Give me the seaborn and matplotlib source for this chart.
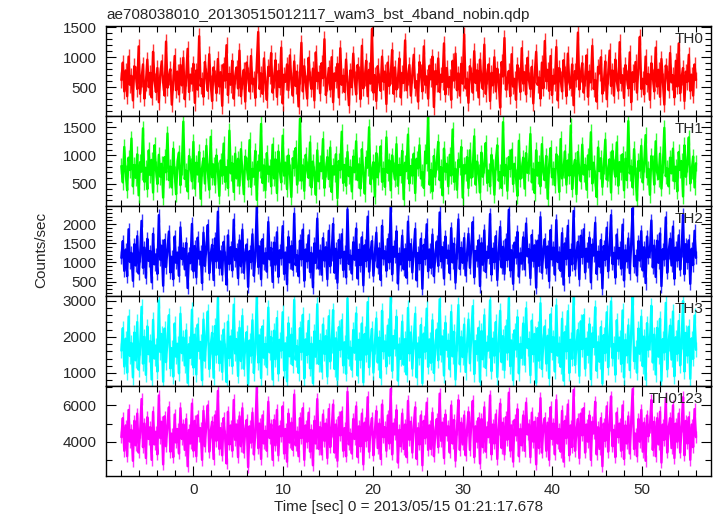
import numpy as np
import pandas as pd
import seaborn as sns
import matplotlib.pyplot as plt
from matplotlib.ticker import MultipleLocator

# light curves, 400 bins between -8 and 56 sec
t_start = -8.0
t_stop = 56.0

th0 = [620, 910, 430, 780, 350, 1010, 540, 690, 280, 850, 720, 470, 1180, 390, 640, 880, 310, 560, 960, 500,
       740, 330, 1090, 610, 420, 820, 250, 700, 930, 580, 360, 1260, 490, 670, 800, 210, 590, 1020, 450, 760,
       380, 870, 530, 990, 300, 650, 1140, 420, 710, 560, 890, 240, 780, 460, 1350, 520, 630, 340, 920, 690,
       440, 1050, 570, 270, 830, 660, 400, 970, 510, 750, 190, 880, 610, 1200, 370, 720, 540, 940, 310, 680,
       830, 480, 1110, 350, 600, 790, 260, 910, 700, 430, 1020, 550, 640, 320, 860, 1420, 470, 730, 390, 980,
       560, 290, 840, 690, 1070, 410, 620, 950, 340, 770, 500, 1160, 230, 710, 590, 880, 450, 1030, 620, 360,
       930, 520, 760, 180, 680, 1240, 430, 850, 570, 310, 990, 640, 470, 810, 280, 1080, 600, 740, 400, 900,
       650, 1300, 370, 560, 820, 460, 1000, 250, 730, 610, 890, 330, 1150, 540, 690, 420, 960, 580, 200, 780,
       500, 1060, 640, 380, 870, 720, 300, 1190, 480, 650, 940, 350, 790, 560, 1470, 410, 700, 270, 850, 610,
       440, 1010, 590, 760, 220, 910, 520, 680, 1120, 390, 830, 460, 620, 980, 330, 740, 570, 1280, 450, 660,
       870, 360, 700, 1040, 490, 600, 260, 920, 750, 430, 1180, 540, 680, 310, 860, 630, 1010, 170, 770, 550,
       980, 420, 710, 590, 1230, 380, 820, 500, 670, 290, 940, 610, 1060, 450, 730, 360, 890, 560, 1380, 480,
       640, 240, 850, 700, 410, 1100, 570, 780, 330, 960, 620, 470, 1210, 390, 690, 880, 270, 740, 530, 1000,
       430, 810, 600, 160, 920, 680, 1320, 460, 590, 770, 350, 1050, 510, 640, 290, 870, 710, 420, 1150, 560,
       750, 380, 990, 620, 470, 840, 230, 700, 1090, 540, 660, 310, 910, 480, 1270, 600, 790, 440, 1020, 370,
       690, 560, 1170, 280, 820, 640, 430, 950, 720, 350, 1060, 580, 490, 880, 200, 770, 630, 1410, 460, 710,
       900, 410, 650, 1030, 340, 760, 580, 1190, 470, 620, 260, 840, 730, 1000, 390, 560, 930, 300, 690, 1110,
       520, 780, 360, 960, 610, 440, 1250, 570, 700, 320, 870, 660, 480, 1080, 250, 750, 590, 920, 410, 830,
       1340, 470, 640, 380, 1010, 550, 720, 290, 900, 680, 430, 1160, 510, 790, 340, 970, 600, 210, 860, 740,
       450, 1070, 580, 700, 330, 940, 510, 1230, 400, 660, 820, 270, 760, 590, 1040, 440, 710, 360, 880, 620]

th1 = [810, 520, 1150, 690, 380, 960, 740, 1300, 450, 830, 600, 1020, 290, 880, 710, 1480, 530, 780, 400, 1090,
       650, 920, 340, 1180, 760, 490, 1010, 620, 850, 250, 970, 700, 1390, 560, 800, 430, 1120, 680, 310, 900,
       1050, 470, 790, 1600, 580, 730, 360, 990, 820, 540, 1240, 410, 870, 660, 1060, 230, 770, 950, 500, 1170,
       720, 390, 1330, 610, 840, 480, 1000, 750, 280, 910, 640, 1210, 530, 790, 420, 1440, 680, 860, 350, 1030,
       590, 940, 460, 1110, 700, 310, 980, 830, 570, 1270, 440, 760, 620, 1080, 210, 890, 730, 1560, 510, 820,
       380, 1040, 670, 800, 450, 1190, 590, 930, 330, 1070, 740, 520, 1350, 640, 870, 400, 1000, 710, 260, 950,
       780, 1130, 480, 690, 1650, 550, 820, 370, 1010, 760, 600, 1230, 430, 890, 680, 300, 1090, 540, 860, 720,
       1290, 420, 750, 970, 580, 1140, 350, 810, 660, 1020, 240, 900, 740, 1420, 510, 830, 460, 1060, 630, 790,
       360, 980, 700, 1250, 560, 840, 410, 1110, 670, 320, 960, 780, 1500, 490, 720, 880, 270, 1040, 610, 850,
       1160, 530, 760, 440, 1320, 690, 910, 380, 1000, 750, 570, 1200, 460, 830, 650, 1080, 220, 870, 720, 1370,
       500, 810, 640, 1030, 330, 940, 770, 1180, 590, 700, 420, 1070, 860, 1700, 480, 740, 360, 990, 620, 880,
       1240, 560, 790, 290, 1120, 710, 850, 450, 1010, 640, 1460, 530, 760, 390, 920, 800, 1150, 250, 830, 680,
       970, 420, 1090, 600, 760, 1340, 480, 890, 710, 340, 1050, 620, 820, 1220, 510, 730, 450, 1010, 790, 300,
       880, 1180, 550, 700, 420, 1590, 640, 830, 370, 970, 760, 1100, 490, 850, 620, 280, 1260, 580, 740, 960,
       410, 1040, 690, 810, 1380, 520, 750, 330, 1090, 640, 870, 450, 1200, 700, 560, 990, 230, 820, 1130, 610,
       760, 470, 1020, 860, 350, 1290, 590, 730, 1070, 480, 910, 640, 1530, 400, 780, 920, 310, 1060, 700, 540,
       1190, 660, 830, 390, 1000, 750, 1410, 500, 870, 600, 260, 1140, 720, 950, 440, 810, 1280, 570, 690, 930,
       340, 1080, 790, 620, 1230, 460, 880, 710, 1020, 380, 940, 560, 1610, 680, 800, 430, 1110, 650, 200, 900,
       730, 1170, 520, 840, 1360, 610, 760, 300, 990, 870, 480, 1250, 700, 580, 1030, 410, 820, 1490, 630, 770,
       450, 960, 680, 1120, 540, 800, 360, 1060, 740, 900, 270, 1180, 620, 850, 1320, 500, 720, 980, 430, 860]

th2 = [1120, 1560, 780, 1340, 640, 1870, 1010, 1250, 520, 1480, 920, 1690, 710, 1180, 2090, 860, 1390, 600, 1620, 1040,
       1300, 480, 1750, 950, 1210, 700, 2240, 1070, 1440, 390, 1590, 880, 1330, 1810, 740, 1150, 560, 1680, 990, 1260,
       650, 1920, 1090, 1370, 820, 1510, 330, 1240, 980, 2010, 770, 1430, 610, 1650, 1100, 1280, 460, 1780, 910, 1390,
       1980, 720, 1200, 1460, 540, 1630, 1030, 2330, 850, 1290, 680, 1540, 1120, 420, 1710, 960, 1400, 790, 2120, 1060,
       1350, 590, 1580, 900, 1860, 730, 1220, 1470, 360, 1300, 1010, 1740, 650, 1170, 2460, 880, 1420, 560, 1610, 970,
       1240, 760, 2060, 1080, 1380, 490, 1520, 940, 1790, 620, 1320, 1110, 1950, 700, 1260, 430, 1670, 1000, 1430, 810,
       2280, 930, 1190, 640, 1570, 1080, 1860, 520, 1340, 1030, 1710, 750, 1250, 350, 1500, 990, 2150, 840, 1310, 680,
       1640, 1050, 1400, 560, 1830, 900, 1210, 2010, 730, 1360, 470, 1590, 1120, 1740, 800, 1280, 610, 2390, 960, 1180,
       710, 1530, 1070, 1890, 580, 1330, 930, 1660, 400, 1450, 1040, 2200, 760, 1270, 1560, 650, 1200, 1780, 870, 1370,
       540, 1960, 1100, 1290, 780, 1610, 1000, 2480, 690, 1410, 1150, 1820, 450, 1230, 950, 1700, 820, 1350, 600, 2070,
       1060, 1480, 740, 1300, 1880, 530, 1250, 980, 1620, 310, 1460, 1090, 2000, 770, 1340, 860, 1730, 640, 1190, 1550,
       910, 2310, 1030, 1400, 580, 1680, 1120, 1310, 720, 1900, 1000, 1490, 470, 1260, 2130, 830, 1380, 990, 1640, 660,
       1220, 1750, 860, 1430, 2060, 610, 1300, 1050, 1580, 380, 1510, 940, 1840, 750, 1280, 1120, 2270, 680, 1360, 1010,
       1690, 540, 1230, 1930, 870, 1410, 700, 1600, 1060, 2380, 790, 1320, 440, 1520, 1130, 1800, 630, 1240, 970, 1660,
       820, 2020, 1160, 1350, 590, 1720, 1040, 1450, 340, 1570, 910, 2190, 730, 1290, 1610, 860, 1420, 510, 1850, 1080,
       1390, 680, 2110, 1010, 1260, 780, 1770, 420, 1500, 1090, 1960, 640, 1330, 950, 2350, 820, 1210, 1540, 560, 1700,
       1140, 1870, 740, 1360, 1020, 1650, 480, 1470, 1180, 2040, 700, 1280, 890, 1590, 320, 1430, 1070, 1910, 770, 1340,
       2240, 960, 1250, 600, 1730, 1100, 1380, 840, 1990, 530, 1320, 1030, 1630, 720, 1490, 2420, 900, 1170, 660, 1560,
       1050, 1820, 790, 1400, 460, 1680, 1130, 1290, 2100, 870, 1440, 620, 1570, 990, 1760, 380, 1350, 1080, 2180, 730,
       1270, 1620, 920, 1940, 570, 1390, 1050, 1710, 810, 1300, 2250, 690, 1480, 1010, 1580, 440, 1360, 930, 1830, 1120]

th3 = [1620, 2240, 1180, 1950, 1010, 2560, 1470, 1830, 880, 2120, 1350, 2410, 1090, 1710, 2830, 1260, 2000, 950, 2290, 1520,
       1880, 820, 2470, 1400, 1760, 1040, 3000, 1580, 2080, 760, 2230, 1300, 1920, 2600, 1130, 1690, 900, 2370, 1450, 1810,
       990, 2640, 1550, 1980, 1210, 2180, 730, 1800, 1420, 2750, 1150, 2060, 960, 2340, 1610, 1860, 800, 2480, 1340, 1990,
       2700, 1110, 1740, 2110, 870, 2300, 1500, 3080, 1270, 1870, 1030, 2200, 1630, 750, 2420, 1410, 2010, 1190, 2890, 1540,
       1940, 920, 2250, 1330, 2580, 1120, 1770, 2130, 710, 1900, 1480, 2460, 1000, 1710, 3110, 1290, 2040, 860, 2290, 1420,
       1800, 1160, 2810, 1570, 1990, 820, 2170, 1380, 2520, 980, 1920, 1620, 2680, 1070, 1820, 770, 2380, 1460, 2060, 1220,
       3020, 1370, 1740, 1000, 2240, 1580, 2610, 850, 1930, 1500, 2440, 1130, 1810, 720, 2150, 1450, 2900, 1250, 1890, 1040,
       2340, 1530, 2020, 900, 2570, 1320, 1760, 2740, 1110, 1960, 810, 2270, 1640, 2460, 1210, 1850, 980, 3060, 1400, 1700,
       1090, 2190, 1560, 2650, 930, 1920, 1360, 2370, 740, 2080, 1510, 2960, 1160, 1830, 2220, 1010, 1740, 2510, 1290, 1980,
       870, 2720, 1600, 1870, 1180, 2310, 1470, 3120, 1060, 2020, 1680, 2560, 790, 1790, 1390, 2420, 1230, 1940, 960, 2800,
       1540, 2120, 1120, 1880, 2640, 880, 1820, 1430, 2330, 720, 2090, 1590, 2780, 1170, 1930, 1280, 2460, 1000, 1720, 2200,
       1350, 3040, 1510, 2010, 930, 2390, 1640, 1890, 1100, 2690, 1460, 2140, 820, 1810, 2880, 1240, 1990, 1440, 2340, 1030,
       1780, 2480, 1270, 2050, 2850, 970, 1880, 1530, 2250, 760, 2160, 1380, 2600, 1140, 1840, 1620, 3010, 1050, 1950, 1480,
       2410, 890, 1790, 2720, 1300, 2020, 1080, 2290, 1560, 3070, 1190, 1900, 800, 2180, 1650, 2550, 990, 1800, 1420, 2370,
       1230, 2790, 1690, 1940, 940, 2450, 1520, 2080, 730, 2240, 1340, 2930, 1110, 1870, 2290, 1260, 2030, 860, 2620, 1580,
       1990, 1040, 2870, 1480, 1810, 1170, 2500, 790, 2130, 1600, 2710, 1000, 1920, 1390, 3090, 1220, 1760, 2190, 920, 2430,
       1660, 2600, 1120, 1950, 1500, 2350, 830, 2100, 1720, 2820, 1060, 1850, 1310, 2270, 710, 2050, 1550, 2680, 1160, 1920,
       2980, 1410, 1800, 950, 2460, 1610, 1980, 1250, 2730, 880, 1910, 1490, 2320, 1080, 2140, 3100, 1330, 1700, 1010, 2230,
       1530, 2560, 1190, 2010, 820, 2380, 1640, 1860, 2860, 1290, 2060, 960, 2250, 1450, 2500, 780, 1940, 1570, 2940, 1100,
       1830, 2310, 1370, 2700, 910, 1990, 1530, 2440, 1210, 1880, 2990, 1040, 2110, 1480, 2280, 840, 1960, 1390, 2590, 1640]

th0123 = [4250, 5300, 3500, 4900, 3200, 5750, 4000, 4650, 2950, 5150, 3800, 5550, 3400, 4500, 6350, 3700, 5000, 3100, 5350, 4150,
          4800, 3000, 5650, 3850, 4550, 3300, 6550, 4200, 5100, 2750, 5400, 3750, 4950, 5900, 3450, 4450, 3150, 5500, 3950, 4700,
          3350, 5850, 4150, 4950, 3550, 5250, 2650, 4650, 3900, 6100, 3500, 5150, 3200, 5450, 4300, 4750, 3000, 5700, 3750, 5000,
          6000, 3450, 4550, 5100, 3050, 5450, 4050, 6800, 3600, 4750, 3250, 5300, 4300, 2800, 5650, 3850, 4900, 3500, 6300, 4100,
          4950, 3150, 5400, 3750, 5850, 3400, 4650, 5200, 2600, 4850, 3950, 5600, 3300, 4500, 7000, 3650, 5000, 3050, 5450, 3900,
          4600, 3500, 6200, 4200, 4950, 3000, 5200, 3800, 5750, 3250, 4850, 4300, 5950, 3350, 4700, 2900, 5550, 3950, 5050, 3550,
          6600, 3800, 4550, 3200, 5300, 4200, 5850, 3000, 4900, 4000, 5600, 3450, 4650, 2700, 5150, 3900, 6350, 3600, 4800, 3300,
          5500, 4050, 5000, 3100, 5800, 3700, 4600, 6050, 3400, 4950, 2950, 5350, 4350, 5650, 3500, 4750, 3200, 6750, 3850, 4450,
          3350, 5250, 4150, 5950, 3150, 4850, 3750, 5550, 2750, 5050, 4050, 6450, 3450, 4700, 5300, 3250, 4550, 5700, 3650, 5000,
          3050, 6050, 4250, 4800, 3500, 5450, 3900, 6900, 3300, 5000, 4400, 5750, 2850, 4650, 3750, 5550, 3600, 4950, 3150, 6250,
          4100, 5100, 3400, 4850, 5900, 3050, 4750, 3850, 5450, 2700, 5150, 4200, 6150, 3550, 4900, 3600, 5600, 3200, 4550, 5250,
          3700, 6650, 4050, 5050, 3100, 5500, 4350, 4850, 3400, 6000, 3900, 5200, 2950, 4700, 6300, 3550, 5050, 3850, 5450, 3250,
          4650, 5650, 3550, 5100, 6250, 3150, 4850, 4000, 5300, 2800, 5250, 3700, 5900, 3450, 4800, 4250, 6550, 3300, 4950, 3900,
          5500, 3050, 4700, 6100, 3650, 5050, 3300, 5350, 4100, 6700, 3500, 4900, 2900, 5200, 4350, 5800, 3200, 4700, 3800, 5450,
          3500, 6150, 4400, 4950, 3150, 5600, 4000, 5100, 2750, 5300, 3650, 6400, 3400, 4850, 5300, 3500, 5050, 3000, 5900, 4150,
          5000, 3300, 6300, 3900, 4700, 3450, 5700, 2900, 5150, 4200, 6050, 3250, 4900, 3700, 6850, 3500, 4600, 5250, 3100, 5550,
          4350, 5850, 3400, 4950, 4000, 5450, 3000, 5100, 4450, 6200, 3300, 4800, 3600, 5300, 2650, 5000, 4050, 5950, 3450, 4900,
          6500, 3750, 4650, 3150, 5600, 4250, 5000, 3500, 6000, 3050, 4900, 3900, 5400, 3350, 5150, 6900, 3600, 4450, 3200, 5250,
          4000, 5750, 3450, 5050, 2950, 5450, 4300, 4800, 6300, 3550, 5100, 3200, 5300, 3850, 5650, 2850, 4950, 4100, 6400, 3400,
          4750, 5300, 3650, 6000, 3100, 5000, 4000, 5550, 3400, 4850, 6450, 3250, 5150, 3900, 5350, 3000, 4950, 3700, 5800, 4250]

# typical error bar half-length per band (cnt/s)
errs = [130, 140, 170, 210, 320]

bands = ['TH0', 'TH1', 'TH2', 'TH3', 'TH0123']
series = [th0, th1, th2, th3, th0123]
colors = ['#ff0000', '#00ff00', '#0000ff', '#00ffff', '#ff00ff']
ylims = [(20, 1520), (100, 1700), (120, 2480), (640, 3130), (2110, 7070)]
ymajor = [500, 500, 500, 1000, 2000]
yminor = [100, 100, 100, 200, 1000]

sns.set_theme(style="ticks")
plt.rcParams['font.family'] = ['Liberation Sans', 'DejaVu Sans']

fig, axes = plt.subplots(5, 1, figsize=(7.17, 5.16), dpi=100, sharex=True)
fig.subplots_adjust(left=0.148, right=0.992, top=0.9496, bottom=0.0775, hspace=0)

for ax, name, vals, err, c, yl, mj, mn in zip(axes, bands, series, errs, colors, ylims, ymajor, yminor):
    df = pd.DataFrame({'time': np.linspace(t_start, t_stop, len(vals)), 'rate': vals})
    ax.errorbar(df['time'], df['rate'], yerr=err, fmt='none', ecolor=c, elinewidth=1.0,
                capsize=0, alpha=0.8)
    sns.lineplot(data=df, x='time', y='rate', ax=ax, color=c, lw=1.7, estimator=None)
    ax.set_ylim(*yl)
    ax.set_xlim(-9.7, 57.7)
    ax.yaxis.set_major_locator(MultipleLocator(mj))
    ax.yaxis.set_minor_locator(MultipleLocator(mn))
    ax.xaxis.set_major_locator(MultipleLocator(10))
    ax.xaxis.set_minor_locator(MultipleLocator(2))
    ax.tick_params(which='both', direction='in', top=True, right=True, labelsize=11, width=0.8, color='black')
    ax.tick_params(which='major', length=7)
    ax.tick_params(which='minor', length=4)
    ax.tick_params(axis='y', pad=7)
    ax.tick_params(axis='x', pad=5)
    for sp in ax.spines.values():
        sp.set_linewidth(1.0)
        sp.set_color('black')
        sp.set_zorder(5)
    ax.set_xlabel('')
    ax.set_ylabel('')
    ax.text(0.987, 0.935, name, transform=ax.transAxes, ha='right', va='top', fontsize=11, zorder=6)

axes[-1].set_xlabel('Time [sec] 0 = 2013/05/15 01:21:17.678', fontsize=11, labelpad=2)
fig.text(0.058, 0.515, 'Counts/sec', rotation=90, ha='center', va='center', fontsize=11)
fig.text(0.149, 0.971, 'ae708038010_20130515012117_wam3_bst_4band_nobin.qdp', ha='left', va='center', fontsize=11)

plt.savefig('out.png', dpi=100)
